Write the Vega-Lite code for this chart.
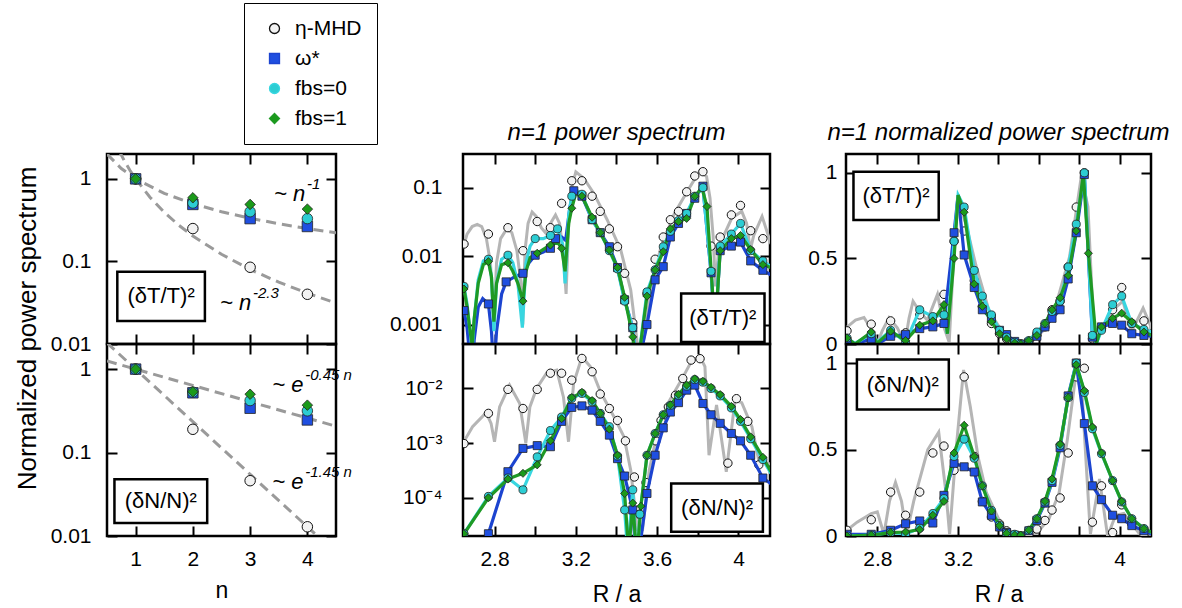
{
"$schema":"https://vega.github.io/schema/vega-lite/v6.json",
"padding":{"left":12,"top":2,"right":5,"bottom":5},
"config":{
 "font":"Liberation Sans",
 "view":{"stroke":"black","strokeWidth":2.5},
 "axis":{"grid":false,"domain":false,"tickColor":"black","tickWidth":2,"labelFontSize":21,"labelColor":"black","titleFontSize":23,"titleFontWeight":"normal","titleColor":"black","labelOverlap":false,"labelFlush":false,"labelBound":false},
 "legend":{"labelFontSize":21,"labelColor":"black","symbolSize":100,"rowPadding":8,"padding":15,"strokeColor":"black","fillColor":"white","symbolStrokeWidth":1.3,"labelOffset":10,"symbolOffset":5},
 "title":{"fontSize":24,"fontWeight":"normal","fontStyle":"italic","color":"black","offset":8,"anchor":"middle"}
},
"datasets":{
"ns":[
{"p":"T","s":"e","n":1,"y":1},{"p":"T","s":"e","n":2,"y":0.25},{"p":"T","s":"e","n":3,"y":0.085},{"p":"T","s":"e","n":4,"y":0.04},
{"p":"T","s":"w","n":1,"y":1},{"p":"T","s":"w","n":2,"y":0.49},{"p":"T","s":"w","n":3,"y":0.33},{"p":"T","s":"w","n":4,"y":0.265},
{"p":"T","s":"c","n":1,"y":1},{"p":"T","s":"c","n":2,"y":0.51},{"p":"T","s":"c","n":3,"y":0.4},{"p":"T","s":"c","n":4,"y":0.33},
{"p":"T","s":"g","n":1,"y":1},{"p":"T","s":"g","n":2,"y":0.59},{"p":"T","s":"g","n":3,"y":0.49},{"p":"T","s":"g","n":4,"y":0.43},
{"p":"N","s":"e","n":1,"y":1},{"p":"N","s":"e","n":2,"y":0.19},{"p":"N","s":"e","n":3,"y":0.046},{"p":"N","s":"e","n":4,"y":0.0129},
{"p":"N","s":"w","n":1,"y":1},{"p":"N","s":"w","n":2,"y":0.52},{"p":"N","s":"w","n":3,"y":0.34},{"p":"N","s":"w","n":4,"y":0.246},
{"p":"N","s":"c","n":1,"y":1},{"p":"N","s":"c","n":2,"y":0.53},{"p":"N","s":"c","n":3,"y":0.42},{"p":"N","s":"c","n":4,"y":0.316},
{"p":"N","s":"g","n":1,"y":1},{"p":"N","s":"g","n":2,"y":0.535},{"p":"N","s":"g","n":3,"y":0.5},{"p":"N","s":"g","n":4,"y":0.37}
],
"fits":[
{"p":"T","f":"a","n":0.5,"y":2},{"p":"T","f":"a","n":0.75,"y":1.333},{"p":"T","f":"a","n":1,"y":1},{"p":"T","f":"a","n":1.5,"y":0.667},{"p":"T","f":"a","n":2,"y":0.5},{"p":"T","f":"a","n":2.5,"y":0.4},{"p":"T","f":"a","n":3,"y":0.333},{"p":"T","f":"a","n":3.5,"y":0.286},{"p":"T","f":"a","n":4,"y":0.25},{"p":"T","f":"a","n":4.5,"y":0.222},
{"p":"T","f":"b","n":0.6,"y":3.24},{"p":"T","f":"b","n":0.7,"y":2.27},{"p":"T","f":"b","n":0.8,"y":1.67},{"p":"T","f":"b","n":0.9,"y":1.27},{"p":"T","f":"b","n":1,"y":1},{"p":"T","f":"b","n":1.25,"y":0.599},{"p":"T","f":"b","n":1.5,"y":0.394},{"p":"T","f":"b","n":1.75,"y":0.276},{"p":"T","f":"b","n":2,"y":0.203},{"p":"T","f":"b","n":2.5,"y":0.122},{"p":"T","f":"b","n":3,"y":0.0799},{"p":"T","f":"b","n":3.5,"y":0.0561},{"p":"T","f":"b","n":4,"y":0.0412},{"p":"T","f":"b","n":4.5,"y":0.0314},
{"p":"N","f":"a","n":0.5,"y":1.25},{"p":"N","f":"a","n":4.5,"y":0.207},
{"p":"N","f":"b","n":0.5,"y":2.06},{"p":"N","f":"b","n":4.5,"y":0.00625}
],
"ann":[
{"p":"T","n":3.416,"y":0.538,"base":"~ n","sup":"-1"},
{"p":"T","n":2.474,"y":0.0258,"base":"~ n","sup":"-2.3"},
{"p":"N","n":3.386,"y":0.538,"base":"~ e","sup":"-0.45 n"},
{"p":"N","n":3.386,"y":0.0362,"base":"~ e","sup":"-1.45 n"}
],
"box":[
{"p":"LT","x1":0.68,"x2":2.21,"y1":0.019,"y2":0.075,"tx":1.445,"ty":0.0377,"lab":"(δT/T)²"},
{"p":"LB","x1":0.63,"x2":2.25,"y1":0.0143,"y2":0.048,"tx":1.44,"ty":0.0262,"lab":"(δN/N)²"},
{"p":"TL","x1":3.718,"x2":4.128,"y1":0.000556,"y2":0.00284,"tx":3.923,"ty":0.00126,"lab":"(δT/T)²"},
{"p":"NL","x1":3.669,"x2":4.12,"y1":0.0000239,"y2":0.000183,"tx":3.895,"ty":0.0000661,"lab":"(δN/N)²"},
{"p":"TN","x1":2.682,"x2":3.104,"y1":0.725,"y2":1.006,"tx":2.893,"ty":0.866,"lab":"(δT/T)²"},
{"p":"NN","x1":2.699,"x2":3.154,"y1":0.731,"y2":1.02,"tx":2.926,"ty":0.875,"lab":"(δN/N)²"}
],
"TL":[
{"s":"e","x":2.645,"y":0.013},{"s":"e","x":2.665,"y":0.021},{"s":"e","x":2.69,"y":0.027},{"s":"e","x":2.715,"y":0.029},{"s":"e","x":2.737,"y":0.027},{"s":"e","x":2.76,"y":0.018},{"s":"e","x":2.78,"y":0.008},{"s":"e","x":2.797,"y":0.001},{"s":"e","x":2.81,"y":0.008},{"s":"e","x":2.83,"y":0.018},{"s":"e","x":2.86,"y":0.025},{"s":"e","x":2.885,"y":0.022},{"s":"e","x":2.91,"y":0.012},{"s":"e","x":2.93,"y":0.004},{"s":"e","x":2.939,"y":0.001},{"s":"e","x":2.95,"y":0.012},{"s":"e","x":2.965,"y":0.03},{"s":"e","x":2.985,"y":0.044},{"s":"e","x":3.005,"y":0.038},{"s":"e","x":3.03,"y":0.026},{"s":"e","x":3.05,"y":0.022},{"s":"e","x":3.075,"y":0.03},{"s":"e","x":3.1,"y":0.04},{"s":"e","x":3.12,"y":0.03},{"s":"e","x":3.14,"y":0.01},{"s":"e","x":3.152,"y":0.0028},{"s":"e","x":3.165,"y":0.03},{"s":"e","x":3.18,"y":0.1},{"s":"e","x":3.2,"y":0.17},{"s":"e","x":3.239,"y":0.137},{"s":"e","x":3.288,"y":0.083},{"s":"e","x":3.354,"y":0.034},{"s":"e","x":3.421,"y":0.0123},{"s":"e","x":3.47,"y":0.0032},{"s":"e","x":3.495,"y":0.0008},{"s":"e","x":3.512,"y":0.0003},{"s":"e","x":3.545,"y":0.0009},{"s":"e","x":3.57,"y":0.0036},{"s":"e","x":3.619,"y":0.0137},{"s":"e","x":3.685,"y":0.042},{"s":"e","x":3.752,"y":0.092},{"s":"e","x":3.81,"y":0.177},{"s":"e","x":3.843,"y":0.145},{"s":"e","x":3.86,"y":0.07},{"s":"e","x":3.875,"y":0.02},{"s":"e","x":3.887,"y":0.0036},{"s":"e","x":3.9,"y":0.01},{"s":"e","x":3.917,"y":0.017},{"s":"e","x":3.967,"y":0.036},{"s":"e","x":4.016,"y":0.045},{"s":"e","x":4.04,"y":0.03},{"s":"e","x":4.058,"y":0.0123},{"s":"e","x":4.075,"y":0.02},{"s":"e","x":4.116,"y":0.038},{"s":"e","x":4.16,"y":0.015},
{"s":"e","x":2.65,"y":0.015,"m":1},{"s":"e","x":2.77,"y":0.021,"m":1},{"s":"e","x":2.866,"y":0.026,"m":1},{"s":"e","x":2.94,"y":0.012,"m":1},{"s":"e","x":3.01,"y":0.032,"m":1},{"s":"e","x":3.075,"y":0.026,"m":1},{"s":"e","x":3.13,"y":0.059,"m":1},{"s":"e","x":3.18,"y":0.126,"m":1},{"s":"e","x":3.23,"y":0.126,"m":1},{"s":"e","x":3.28,"y":0.075,"m":1},{"s":"e","x":3.32,"y":0.045,"m":1},{"s":"e","x":3.365,"y":0.025,"m":1},{"s":"e","x":3.405,"y":0.0137,"m":1},{"s":"e","x":3.44,"y":0.0056,"m":1},{"s":"e","x":3.48,"y":0.00106,"m":1},{"s":"e","x":3.55,"y":0.0028,"m":1},{"s":"e","x":3.59,"y":0.009,"m":1},{"s":"e","x":3.63,"y":0.019,"m":1},{"s":"e","x":3.665,"y":0.034,"m":1},{"s":"e","x":3.705,"y":0.045,"m":1},{"s":"e","x":3.745,"y":0.087,"m":1},{"s":"e","x":3.785,"y":0.148,"m":1},{"s":"e","x":3.825,"y":0.171,"m":1},{"s":"e","x":3.865,"y":0.014,"m":1},{"s":"e","x":3.91,"y":0.019,"m":1},{"s":"e","x":3.965,"y":0.04,"m":1},{"s":"e","x":4.01,"y":0.055,"m":1},{"s":"e","x":4.06,"y":0.0235,"m":1},{"s":"e","x":4.12,"y":0.018,"m":1},
{"s":"w","x":2.65,"y":0.0016,"m":1},{"s":"w","x":2.665,"y":0.0009},{"s":"w","x":2.68,"y":0.0003},{"s":"w","x":2.69,"y":0.0002},{"s":"w","x":2.7,"y":0.0006},{"s":"w","x":2.72,"y":0.0018},{"s":"w","x":2.742,"y":0.0024},{"s":"w","x":2.77,"y":0.002,"m":1},{"s":"w","x":2.785,"y":0.0008},{"s":"w","x":2.797,"y":0.0002},{"s":"w","x":2.81,"y":0.0008},{"s":"w","x":2.835,"y":0.0028},{"s":"w","x":2.857,"y":0.0042,"m":1},{"s":"w","x":2.9,"y":0.005},{"s":"w","x":2.94,"y":0.0056,"m":1},{"s":"w","x":2.97,"y":0.008},{"s":"w","x":3.0,"y":0.0103,"m":1},{"s":"w","x":3.04,"y":0.0115},{"s":"w","x":3.075,"y":0.013,"m":1},{"s":"w","x":3.1,"y":0.018,"m":1},{"s":"w","x":3.13,"y":0.019},{"s":"w","x":3.15,"y":0.017},{"s":"w","x":3.17,"y":0.05},{"s":"w","x":3.19,"y":0.09,"m":1},{"s":"w","x":3.23,"y":0.075,"m":1},{"s":"w","x":3.28,"y":0.034,"m":1},{"s":"w","x":3.32,"y":0.022,"m":1},{"s":"w","x":3.365,"y":0.0137,"m":1},{"s":"w","x":3.405,"y":0.0068,"m":1},{"s":"w","x":3.44,"y":0.0023,"m":1},{"s":"w","x":3.48,"y":0.0009,"m":1},{"s":"w","x":3.5,"y":0.0002},{"s":"w","x":3.55,"y":0.001,"m":1},{"s":"w","x":3.59,"y":0.0045,"m":1},{"s":"w","x":3.63,"y":0.007,"m":1},{"s":"w","x":3.665,"y":0.019,"m":1},{"s":"w","x":3.705,"y":0.03,"m":1},{"s":"w","x":3.745,"y":0.042,"m":1},{"s":"w","x":3.785,"y":0.07,"m":1},{"s":"w","x":3.825,"y":0.105,"m":1},{"s":"w","x":3.865,"y":0.0057,"m":1},{"s":"w","x":3.885,"y":0.0008},{"s":"w","x":3.91,"y":0.012,"m":1},{"s":"w","x":3.965,"y":0.014,"m":1},{"s":"w","x":4.01,"y":0.016,"m":1},{"s":"w","x":4.06,"y":0.0085,"m":1},{"s":"w","x":4.12,"y":0.0062,"m":1},{"s":"w","x":4.16,"y":0.0053},
{"s":"c","x":2.65,"y":0.0036,"m":1},{"s":"c","x":2.665,"y":0.002},{"s":"c","x":2.68,"y":0.0008},{"s":"c","x":2.69,"y":0.0004},{"s":"c","x":2.7,"y":0.0012},{"s":"c","x":2.72,"y":0.0045},{"s":"c","x":2.745,"y":0.0085},{"s":"c","x":2.77,"y":0.009,"m":1},{"s":"c","x":2.785,"y":0.005},{"s":"c","x":2.797,"y":0.0008},{"s":"c","x":2.81,"y":0.004},{"s":"c","x":2.835,"y":0.009},{"s":"c","x":2.866,"y":0.0103,"m":1},{"s":"c","x":2.89,"y":0.008},{"s":"c","x":2.915,"y":0.004},{"s":"c","x":2.937,"y":0.0009},{"s":"c","x":2.955,"y":0.008},{"s":"c","x":2.975,"y":0.014},{"s":"c","x":3.0,"y":0.018,"m":1},{"s":"c","x":3.04,"y":0.018},{"s":"c","x":3.075,"y":0.02,"m":1},{"s":"c","x":3.11,"y":0.025,"m":1},{"s":"c","x":3.135,"y":0.015},{"s":"c","x":3.147,"y":0.004},{"s":"c","x":3.165,"y":0.04},{"s":"c","x":3.18,"y":0.075,"m":1},{"s":"c","x":3.2,"y":0.093},{"s":"c","x":3.23,"y":0.08,"m":1},{"s":"c","x":3.28,"y":0.034,"m":1},{"s":"c","x":3.32,"y":0.022,"m":1},{"s":"c","x":3.365,"y":0.012,"m":1},{"s":"c","x":3.405,"y":0.0065,"m":1},{"s":"c","x":3.44,"y":0.0022,"m":1},{"s":"c","x":3.48,"y":0.0009,"m":1},{"s":"c","x":3.5,"y":0.0002},{"s":"c","x":3.55,"y":0.003,"m":1},{"s":"c","x":3.59,"y":0.0063,"m":1},{"s":"c","x":3.63,"y":0.0137,"m":1},{"s":"c","x":3.665,"y":0.023,"m":1},{"s":"c","x":3.705,"y":0.033,"m":1},{"s":"c","x":3.745,"y":0.042,"m":1},{"s":"c","x":3.785,"y":0.075,"m":1},{"s":"c","x":3.825,"y":0.1,"m":1},{"s":"c","x":3.865,"y":0.006,"m":1},{"s":"c","x":3.885,"y":0.0008},{"s":"c","x":3.91,"y":0.014,"m":1},{"s":"c","x":3.965,"y":0.021,"m":1},{"s":"c","x":4.01,"y":0.03,"m":1},{"s":"c","x":4.06,"y":0.012,"m":1},{"s":"c","x":4.12,"y":0.0085,"m":1},{"s":"c","x":4.16,"y":0.007},
{"s":"g","x":2.65,"y":0.0033,"m":1},{"s":"g","x":2.665,"y":0.0018},{"s":"g","x":2.68,"y":0.0008},{"s":"g","x":2.69,"y":0.0005},{"s":"g","x":2.7,"y":0.0012},{"s":"g","x":2.72,"y":0.004},{"s":"g","x":2.745,"y":0.0075},{"s":"g","x":2.77,"y":0.0083,"m":1},{"s":"g","x":2.785,"y":0.005},{"s":"g","x":2.797,"y":0.0011},{"s":"g","x":2.81,"y":0.004},{"s":"g","x":2.835,"y":0.0075},{"s":"g","x":2.866,"y":0.008,"m":1},{"s":"g","x":2.89,"y":0.006},{"s":"g","x":2.915,"y":0.004},{"s":"g","x":2.94,"y":0.0022,"m":1},{"s":"g","x":2.955,"y":0.006},{"s":"g","x":2.975,"y":0.0095},{"s":"g","x":3.01,"y":0.011,"m":1},{"s":"g","x":3.04,"y":0.0125},{"s":"g","x":3.075,"y":0.0145,"m":1},{"s":"g","x":3.11,"y":0.016},{"s":"g","x":3.13,"y":0.013,"m":1},{"s":"g","x":3.147,"y":0.006},{"s":"g","x":3.165,"y":0.03},{"s":"g","x":3.18,"y":0.05,"m":1},{"s":"g","x":3.2,"y":0.083},{"s":"g","x":3.23,"y":0.075,"m":1},{"s":"g","x":3.28,"y":0.037,"m":1},{"s":"g","x":3.32,"y":0.022,"m":1},{"s":"g","x":3.365,"y":0.0122,"m":1},{"s":"g","x":3.405,"y":0.0068,"m":1},{"s":"g","x":3.44,"y":0.0025,"m":1},{"s":"g","x":3.48,"y":0.00066,"m":1},{"s":"g","x":3.5,"y":0.0002},{"s":"g","x":3.55,"y":0.0026,"m":1},{"s":"g","x":3.59,"y":0.0063,"m":1},{"s":"g","x":3.63,"y":0.0116,"m":1},{"s":"g","x":3.665,"y":0.025,"m":1},{"s":"g","x":3.705,"y":0.032,"m":1},{"s":"g","x":3.745,"y":0.0355,"m":1},{"s":"g","x":3.785,"y":0.075,"m":1},{"s":"g","x":3.82,"y":0.1},{"s":"g","x":3.845,"y":0.053,"m":1},{"s":"g","x":3.885,"y":0.0008},{"s":"g","x":3.91,"y":0.012,"m":1},{"s":"g","x":3.965,"y":0.018,"m":1},{"s":"g","x":4.01,"y":0.02,"m":1},{"s":"g","x":4.06,"y":0.0125,"m":1},{"s":"g","x":4.12,"y":0.0075,"m":1},{"s":"g","x":4.16,"y":0.0068}
],
"NL":[
{"s":"e","x":2.645,"y":0.001},{"s":"e","x":2.692,"y":0.002},{"s":"e","x":2.759,"y":0.0036},{"s":"e","x":2.783,"y":0.0023},{"s":"e","x":2.8,"y":0.00106},{"s":"e","x":2.825,"y":0.0046},{"s":"e","x":2.874,"y":0.0115},{"s":"e","x":2.924,"y":0.0053},{"s":"e","x":2.954,"y":0.001},{"s":"e","x":2.974,"y":0.0046},{"s":"e","x":3.007,"y":0.01},{"s":"e","x":3.057,"y":0.0193},{"s":"e","x":3.106,"y":0.0216},{"s":"e","x":3.139,"y":0.007},{"s":"e","x":3.164,"y":0.00106},{"s":"e","x":3.189,"y":0.0123},{"s":"e","x":3.23,"y":0.038},{"s":"e","x":3.272,"y":0.025},{"s":"e","x":3.321,"y":0.0087},{"s":"e","x":3.388,"y":0.003},{"s":"e","x":3.437,"y":0.0013},{"s":"e","x":3.47,"y":0.00032},{"s":"e","x":3.503,"y":0.000026},{"s":"e","x":3.528,"y":0.000026},{"s":"e","x":3.561,"y":0.00032},{"s":"e","x":3.603,"y":0.0017},{"s":"e","x":3.652,"y":0.0053},{"s":"e","x":3.719,"y":0.0142},{"s":"e","x":3.768,"y":0.031},{"s":"e","x":3.81,"y":0.039},{"s":"e","x":3.835,"y":0.025},{"s":"e","x":3.855,"y":0.0006},{"s":"e","x":3.892,"y":0.005},{"s":"e","x":3.94,"y":0.0003},{"s":"e","x":3.983,"y":0.006},{"s":"e","x":4.016,"y":0.0055},{"s":"e","x":4.066,"y":0.002},{"s":"e","x":4.099,"y":0.0005},{"s":"e","x":4.165,"y":0.0004},
{"s":"e","x":2.65,"y":0.00098,"m":1},{"s":"e","x":2.77,"y":0.0035,"m":1},{"s":"e","x":2.866,"y":0.0096,"m":1},{"s":"e","x":2.94,"y":0.0043,"m":1},{"s":"e","x":3.01,"y":0.0096,"m":1},{"s":"e","x":3.075,"y":0.019,"m":1},{"s":"e","x":3.13,"y":0.019,"m":1},{"s":"e","x":3.18,"y":0.0142,"m":1},{"s":"e","x":3.23,"y":0.0354,"m":1},{"s":"e","x":3.28,"y":0.0202,"m":1},{"s":"e","x":3.32,"y":0.0079,"m":1},{"s":"e","x":3.365,"y":0.0043,"m":1},{"s":"e","x":3.405,"y":0.0026,"m":1},{"s":"e","x":3.444,"y":0.0011,"m":1},{"s":"e","x":3.488,"y":0.00024,"m":1},{"s":"e","x":3.513,"y":0.00005,"m":1},{"s":"e","x":3.545,"y":0.00019,"m":1},{"s":"e","x":3.594,"y":0.0011,"m":1},{"s":"e","x":3.619,"y":0.0026,"m":1},{"s":"e","x":3.655,"y":0.0046,"m":1},{"s":"e","x":3.69,"y":0.0075,"m":1},{"s":"e","x":3.726,"y":0.0152,"m":1},{"s":"e","x":3.767,"y":0.033,"m":1},{"s":"e","x":3.811,"y":0.035,"m":1},{"s":"e","x":3.948,"y":0.00043,"m":1},{"s":"e","x":3.99,"y":0.0065,"m":1},{"s":"e","x":4.046,"y":0.0025,"m":1},{"s":"e","x":4.1,"y":0.0004,"m":1},
{"s":"w","x":2.74,"y":0.000005},{"s":"w","x":2.77,"y":0.000022,"m":1},{"s":"w","x":2.866,"y":0.0003,"m":1},{"s":"w","x":2.94,"y":0.0008,"m":1},{"s":"w","x":3.01,"y":0.0009,"m":1},{"s":"w","x":3.075,"y":0.00086,"m":1},{"s":"w","x":3.13,"y":0.0025,"m":1},{"s":"w","x":3.18,"y":0.0045,"m":1},{"s":"w","x":3.23,"y":0.0048,"m":1},{"s":"w","x":3.28,"y":0.004,"m":1},{"s":"w","x":3.32,"y":0.0025,"m":1},{"s":"w","x":3.365,"y":0.0014,"m":1},{"s":"w","x":3.405,"y":0.00052,"m":1},{"s":"w","x":3.44,"y":0.00025,"m":1},{"s":"w","x":3.48,"y":0.00006,"m":1},{"s":"w","x":3.5,"y":0.000005},{"s":"w","x":3.55,"y":0.00012,"m":1},{"s":"w","x":3.59,"y":0.0006,"m":1},{"s":"w","x":3.63,"y":0.0019,"m":1},{"s":"w","x":3.665,"y":0.0037,"m":1},{"s":"w","x":3.705,"y":0.0055,"m":1},{"s":"w","x":3.745,"y":0.0093,"m":1},{"s":"w","x":3.785,"y":0.0115,"m":1},{"s":"w","x":3.825,"y":0.0053,"m":1},{"s":"w","x":3.865,"y":0.0033,"m":1},{"s":"w","x":3.91,"y":0.0023,"m":1},{"s":"w","x":3.965,"y":0.0015,"m":1},{"s":"w","x":4.01,"y":0.0011,"m":1},{"s":"w","x":4.06,"y":0.0006,"m":1},{"s":"w","x":4.12,"y":0.00023,"m":1},{"s":"w","x":4.16,"y":0.00018},
{"s":"c","x":2.65,"y":0.000022,"m":1},{"s":"c","x":2.77,"y":0.000106,"m":1},{"s":"c","x":2.866,"y":0.00023,"m":1},{"s":"c","x":2.94,"y":0.00014,"m":1},{"s":"c","x":3.01,"y":0.00056,"m":1},{"s":"c","x":3.075,"y":0.0017,"m":1},{"s":"c","x":3.13,"y":0.003,"m":1},{"s":"c","x":3.18,"y":0.0066,"m":1},{"s":"c","x":3.23,"y":0.0081,"m":1},{"s":"c","x":3.28,"y":0.0057,"m":1},{"s":"c","x":3.32,"y":0.0035,"m":1},{"s":"c","x":3.365,"y":0.002,"m":1},{"s":"c","x":3.405,"y":0.00058,"m":1},{"s":"c","x":3.44,"y":0.00006,"m":1},{"s":"c","x":3.455,"y":0.00001},{"s":"c","x":3.48,"y":0.00014,"m":1},{"s":"c","x":3.5,"y":0.000005},{"s":"c","x":3.515,"y":0.00005,"m":1},{"s":"c","x":3.55,"y":0.0006,"m":1},{"s":"c","x":3.59,"y":0.0015,"m":1},{"s":"c","x":3.63,"y":0.0033,"m":1},{"s":"c","x":3.665,"y":0.0049,"m":1},{"s":"c","x":3.705,"y":0.0075,"m":1},{"s":"c","x":3.745,"y":0.011,"m":1},{"s":"c","x":3.785,"y":0.0145,"m":1},{"s":"c","x":3.825,"y":0.013,"m":1},{"s":"c","x":3.865,"y":0.01,"m":1},{"s":"c","x":3.91,"y":0.0073,"m":1},{"s":"c","x":3.965,"y":0.0044,"m":1},{"s":"c","x":4.01,"y":0.0025,"m":1},{"s":"c","x":4.06,"y":0.0012,"m":1},{"s":"c","x":4.12,"y":0.0005,"m":1},{"s":"c","x":4.16,"y":0.00028},
{"s":"g","x":2.65,"y":0.000022,"m":1},{"s":"g","x":2.77,"y":0.0001,"m":1},{"s":"g","x":2.866,"y":0.00022,"m":1},{"s":"g","x":2.94,"y":0.00028,"m":1},{"s":"g","x":3.01,"y":0.0004,"m":1},{"s":"g","x":3.075,"y":0.0011,"m":1},{"s":"g","x":3.13,"y":0.0028,"m":1},{"s":"g","x":3.18,"y":0.0068,"m":1},{"s":"g","x":3.23,"y":0.0085,"m":1},{"s":"g","x":3.28,"y":0.006,"m":1},{"s":"g","x":3.32,"y":0.0035,"m":1},{"s":"g","x":3.365,"y":0.0018,"m":1},{"s":"g","x":3.405,"y":0.0006,"m":1},{"s":"g","x":3.44,"y":0.00012,"m":1},{"s":"g","x":3.46,"y":0.00001},{"s":"g","x":3.48,"y":0.00008,"m":1},{"s":"g","x":3.5,"y":0.000008},{"s":"g","x":3.52,"y":0.00007,"m":1},{"s":"g","x":3.55,"y":0.0006,"m":1},{"s":"g","x":3.59,"y":0.0015,"m":1},{"s":"g","x":3.63,"y":0.0033,"m":1},{"s":"g","x":3.665,"y":0.005,"m":1},{"s":"g","x":3.705,"y":0.0078,"m":1},{"s":"g","x":3.745,"y":0.0115,"m":1},{"s":"g","x":3.785,"y":0.015,"m":1},{"s":"g","x":3.825,"y":0.0135,"m":1},{"s":"g","x":3.865,"y":0.0105,"m":1},{"s":"g","x":3.91,"y":0.0077,"m":1},{"s":"g","x":3.965,"y":0.0047,"m":1},{"s":"g","x":4.01,"y":0.0027,"m":1},{"s":"g","x":4.06,"y":0.0013,"m":1},{"s":"g","x":4.12,"y":0.00055,"m":1},{"s":"g","x":4.16,"y":0.0003}
],
"TN":[
{"s":"e","x":2.645,"y":0.094},{"s":"e","x":2.692,"y":0.14},{"s":"e","x":2.734,"y":0.155},{"s":"e","x":2.775,"y":0.078},{"s":"e","x":2.8,"y":0.005},{"s":"e","x":2.825,"y":0.078},{"s":"e","x":2.858,"y":0.153},{"s":"e","x":2.899,"y":0.095},{"s":"e","x":2.937,"y":0.005},{"s":"e","x":2.957,"y":0.15},{"s":"e","x":2.977,"y":0.25},{"s":"e","x":3.015,"y":0.18},{"s":"e","x":3.048,"y":0.14},{"s":"e","x":3.098,"y":0.29},{"s":"e","x":3.131,"y":0.095},{"s":"e","x":3.156,"y":0.01},{"s":"e","x":3.172,"y":0.37},{"s":"e","x":3.197,"y":0.85},{"s":"e","x":3.239,"y":0.7},{"s":"e","x":3.288,"y":0.46},{"s":"e","x":3.354,"y":0.19},{"s":"e","x":3.421,"y":0.068},{"s":"e","x":3.47,"y":0.018},{"s":"e","x":3.495,"y":0.004},{"s":"e","x":3.512,"y":0},{"s":"e","x":3.545,"y":0.005},{"s":"e","x":3.57,"y":0.02},{"s":"e","x":3.619,"y":0.076},{"s":"e","x":3.685,"y":0.23},{"s":"e","x":3.752,"y":0.51},{"s":"e","x":3.81,"y":0.98},{"s":"e","x":3.843,"y":0.8},{"s":"e","x":3.868,"y":0.17},{"s":"e","x":3.887,"y":0.02},{"s":"e","x":3.917,"y":0.095},{"s":"e","x":3.967,"y":0.2},{"s":"e","x":4.016,"y":0.25},{"s":"e","x":4.058,"y":0.07},{"s":"e","x":4.116,"y":0.21},{"s":"e","x":4.16,"y":0.085},
{"s":"e","x":2.65,"y":0.077,"m":1},{"s":"e","x":2.77,"y":0.116,"m":1},{"s":"e","x":2.866,"y":0.135,"m":1},{"s":"e","x":2.94,"y":0.065,"m":1},{"s":"e","x":3.01,"y":0.17,"m":1},{"s":"e","x":3.075,"y":0.13,"m":1},{"s":"e","x":3.13,"y":0.29,"m":1},{"s":"e","x":3.18,"y":0.6,"m":1},{"s":"e","x":3.23,"y":0.66,"m":1},{"s":"e","x":3.28,"y":0.37,"m":1},{"s":"e","x":3.32,"y":0.22,"m":1},{"s":"e","x":3.365,"y":0.12,"m":1},{"s":"e","x":3.405,"y":0.06,"m":1},{"s":"e","x":3.44,"y":0.03,"m":1},{"s":"e","x":3.48,"y":0.005,"m":1},{"s":"e","x":3.51,"y":0,"m":1},{"s":"e","x":3.55,"y":0.015,"m":1},{"s":"e","x":3.59,"y":0.05,"m":1},{"s":"e","x":3.63,"y":0.1,"m":1},{"s":"e","x":3.665,"y":0.2,"m":1},{"s":"e","x":3.705,"y":0.25,"m":1},{"s":"e","x":3.745,"y":0.45,"m":1},{"s":"e","x":3.785,"y":0.8,"m":1},{"s":"e","x":3.825,"y":1,"m":1},{"s":"e","x":3.865,"y":0.03,"m":1},{"s":"e","x":3.91,"y":0.09,"m":1},{"s":"e","x":3.965,"y":0.2,"m":1},{"s":"e","x":4.01,"y":0.33,"m":1},{"s":"e","x":4.06,"y":0.12,"m":1},{"s":"e","x":4.12,"y":0.135,"m":1},
{"s":"w","x":2.65,"y":0.015,"m":1},{"s":"w","x":2.69,"y":0},{"s":"w","x":2.77,"y":0.03,"m":1},{"s":"w","x":2.8,"y":0},{"s":"w","x":2.866,"y":0.045,"m":1},{"s":"w","x":2.94,"y":0.055,"m":1},{"s":"w","x":3.01,"y":0.09,"m":1},{"s":"w","x":3.075,"y":0.1,"m":1},{"s":"w","x":3.13,"y":0.12,"m":1},{"s":"w","x":3.18,"y":0.65,"m":1},{"s":"w","x":3.2,"y":0.87},{"s":"w","x":3.23,"y":0.52,"m":1},{"s":"w","x":3.28,"y":0.33,"m":1},{"s":"w","x":3.32,"y":0.2,"m":1},{"s":"w","x":3.365,"y":0.15,"m":1},{"s":"w","x":3.405,"y":0.08,"m":1},{"s":"w","x":3.44,"y":0.055,"m":1},{"s":"w","x":3.48,"y":0.015,"m":1},{"s":"w","x":3.51,"y":0,"m":1},{"s":"w","x":3.55,"y":0.01,"m":1},{"s":"w","x":3.59,"y":0.045,"m":1},{"s":"w","x":3.63,"y":0.1,"m":1},{"s":"w","x":3.665,"y":0.15,"m":1},{"s":"w","x":3.705,"y":0.2,"m":1},{"s":"w","x":3.745,"y":0.38,"m":1},{"s":"w","x":3.785,"y":0.65,"m":1},{"s":"w","x":3.825,"y":0.99,"m":1},{"s":"w","x":3.865,"y":0.04,"m":1},{"s":"w","x":3.885,"y":0.005},{"s":"w","x":3.91,"y":0.1,"m":1},{"s":"w","x":3.965,"y":0.12,"m":1},{"s":"w","x":4.01,"y":0.11,"m":1},{"s":"w","x":4.06,"y":0.06,"m":1},{"s":"w","x":4.12,"y":0.05,"m":1},{"s":"w","x":4.16,"y":0.045},
{"s":"c","x":2.65,"y":0.035,"m":1},{"s":"c","x":2.69,"y":0.003},{"s":"c","x":2.77,"y":0.06,"m":1},{"s":"c","x":2.8,"y":0.01},{"s":"c","x":2.866,"y":0.08,"m":1},{"s":"c","x":2.94,"y":0.01,"m":1},{"s":"c","x":3.01,"y":0.2,"m":1},{"s":"c","x":3.075,"y":0.16,"m":1},{"s":"c","x":3.13,"y":0.17,"m":1},{"s":"c","x":3.147,"y":0.06},{"s":"c","x":3.18,"y":0.6,"m":1},{"s":"c","x":3.2,"y":0.87},{"s":"c","x":3.23,"y":0.8,"m":1},{"s":"c","x":3.28,"y":0.43,"m":1},{"s":"c","x":3.32,"y":0.28,"m":1},{"s":"c","x":3.365,"y":0.17,"m":1},{"s":"c","x":3.405,"y":0.08,"m":1},{"s":"c","x":3.44,"y":0.04,"m":1},{"s":"c","x":3.48,"y":0.01,"m":1},{"s":"c","x":3.51,"y":0,"m":1},{"s":"c","x":3.55,"y":0.02,"m":1},{"s":"c","x":3.59,"y":0.07,"m":1},{"s":"c","x":3.63,"y":0.12,"m":1},{"s":"c","x":3.665,"y":0.19,"m":1},{"s":"c","x":3.705,"y":0.25,"m":1},{"s":"c","x":3.745,"y":0.45,"m":1},{"s":"c","x":3.785,"y":0.7,"m":1},{"s":"c","x":3.825,"y":1,"m":1},{"s":"c","x":3.865,"y":0.05,"m":1},{"s":"c","x":3.885,"y":0.005},{"s":"c","x":3.91,"y":0.08,"m":1},{"s":"c","x":3.965,"y":0.23,"m":1},{"s":"c","x":4.01,"y":0.28,"m":1},{"s":"c","x":4.06,"y":0.12,"m":1},{"s":"c","x":4.12,"y":0.085,"m":1},{"s":"c","x":4.16,"y":0.07},
{"s":"g","x":2.65,"y":0.035,"m":1},{"s":"g","x":2.69,"y":0},{"s":"g","x":2.77,"y":0.07,"m":1},{"s":"g","x":2.8,"y":0.005},{"s":"g","x":2.866,"y":0.075,"m":1},{"s":"g","x":2.94,"y":0.02,"m":1},{"s":"g","x":3.01,"y":0.11,"m":1},{"s":"g","x":3.075,"y":0.135,"m":1},{"s":"g","x":3.13,"y":0.23,"m":1},{"s":"g","x":3.147,"y":0.06},{"s":"g","x":3.18,"y":0.5,"m":1},{"s":"g","x":3.2,"y":0.87},{"s":"g","x":3.23,"y":0.77,"m":1},{"s":"g","x":3.28,"y":0.35,"m":1},{"s":"g","x":3.32,"y":0.22,"m":1},{"s":"g","x":3.365,"y":0.13,"m":1},{"s":"g","x":3.405,"y":0.06,"m":1},{"s":"g","x":3.44,"y":0.03,"m":1},{"s":"g","x":3.48,"y":0.006,"m":1},{"s":"g","x":3.51,"y":0,"m":1},{"s":"g","x":3.55,"y":0.02,"m":1},{"s":"g","x":3.59,"y":0.05,"m":1},{"s":"g","x":3.63,"y":0.12,"m":1},{"s":"g","x":3.665,"y":0.2,"m":1},{"s":"g","x":3.705,"y":0.27,"m":1},{"s":"g","x":3.745,"y":0.4,"m":1},{"s":"g","x":3.785,"y":0.66,"m":1},{"s":"g","x":3.82,"y":1},{"s":"g","x":3.845,"y":0.53,"m":1},{"s":"g","x":3.885,"y":0.005},{"s":"g","x":3.91,"y":0.1,"m":1},{"s":"g","x":3.965,"y":0.15,"m":1},{"s":"g","x":4.01,"y":0.18,"m":1},{"s":"g","x":4.06,"y":0.13,"m":1},{"s":"g","x":4.12,"y":0.07,"m":1},{"s":"g","x":4.16,"y":0.05}
],
"NN":[
{"s":"e","x":2.645,"y":0.03},{"s":"e","x":2.7,"y":0.08},{"s":"e","x":2.77,"y":0.13},{"s":"e","x":2.8,"y":0.14},{"s":"e","x":2.833,"y":0.01},{"s":"e","x":2.86,"y":0.2},{"s":"e","x":2.89,"y":0.31},{"s":"e","x":2.92,"y":0.2},{"s":"e","x":2.945,"y":0.01},{"s":"e","x":2.98,"y":0.2},{"s":"e","x":3.05,"y":0.5},{"s":"e","x":3.104,"y":0.6},{"s":"e","x":3.14,"y":0.25},{"s":"e","x":3.158,"y":0.01},{"s":"e","x":3.19,"y":0.5},{"s":"e","x":3.227,"y":0.96},{"s":"e","x":3.26,"y":0.75},{"s":"e","x":3.3,"y":0.45},{"s":"e","x":3.34,"y":0.25},{"s":"e","x":3.4,"y":0.1},{"s":"e","x":3.44,"y":0.03},{"s":"e","x":3.48,"y":0.008},{"s":"e","x":3.51,"y":0},{"s":"e","x":3.56,"y":0.01},{"s":"e","x":3.6,"y":0.03},{"s":"e","x":3.65,"y":0.1},{"s":"e","x":3.7,"y":0.25},{"s":"e","x":3.74,"y":0.55},{"s":"e","x":3.785,"y":0.95},{"s":"e","x":3.815,"y":0.8},{"s":"e","x":3.835,"y":0.4},{"s":"e","x":3.855,"y":0.01},{"s":"e","x":3.9,"y":0.33},{"s":"e","x":3.94,"y":0},{"s":"e","x":3.98,"y":0.12},{"s":"e","x":4.02,"y":0.13},{"s":"e","x":4.066,"y":0.06},{"s":"e","x":4.1,"y":0.01},{"s":"e","x":4.16,"y":0.01},
{"s":"e","x":2.65,"y":0.033,"m":1},{"s":"e","x":2.77,"y":0.094,"m":1},{"s":"e","x":2.866,"y":0.254,"m":1},{"s":"e","x":2.94,"y":0.12,"m":1},{"s":"e","x":3.01,"y":0.254,"m":1},{"s":"e","x":3.075,"y":0.48,"m":1},{"s":"e","x":3.13,"y":0.52,"m":1},{"s":"e","x":3.18,"y":0.38,"m":1},{"s":"e","x":3.23,"y":0.92,"m":1},{"s":"e","x":3.28,"y":0.46,"m":1},{"s":"e","x":3.32,"y":0.2,"m":1},{"s":"e","x":3.365,"y":0.11,"m":1},{"s":"e","x":3.405,"y":0.07,"m":1},{"s":"e","x":3.44,"y":0.03,"m":1},{"s":"e","x":3.48,"y":0.006,"m":1},{"s":"e","x":3.51,"y":0,"m":1},{"s":"e","x":3.55,"y":0.005,"m":1},{"s":"e","x":3.59,"y":0.04,"m":1},{"s":"e","x":3.63,"y":0.09,"m":1},{"s":"e","x":3.665,"y":0.15,"m":1},{"s":"e","x":3.705,"y":0.22,"m":1},{"s":"e","x":3.745,"y":0.48,"m":1},{"s":"e","x":3.785,"y":0.92,"m":1},{"s":"e","x":3.825,"y":0.97,"m":1},{"s":"e","x":3.865,"y":0.08,"m":1},{"s":"e","x":3.91,"y":0.29,"m":1},{"s":"e","x":3.965,"y":0.02,"m":1},{"s":"e","x":4.01,"y":0.18,"m":1},{"s":"e","x":4.06,"y":0.07,"m":1},{"s":"e","x":4.12,"y":0,"m":1},
{"s":"w","x":2.65,"y":0.01,"m":1},{"s":"w","x":2.77,"y":0.01,"m":1},{"s":"w","x":2.866,"y":0.033,"m":1},{"s":"w","x":2.94,"y":0.071,"m":1},{"s":"w","x":3.01,"y":0.087,"m":1},{"s":"w","x":3.075,"y":0.075,"m":1},{"s":"w","x":3.13,"y":0.235,"m":1},{"s":"w","x":3.18,"y":0.42,"m":1},{"s":"w","x":3.23,"y":0.4,"m":1},{"s":"w","x":3.28,"y":0.37,"m":1},{"s":"w","x":3.32,"y":0.197,"m":1},{"s":"w","x":3.365,"y":0.12,"m":1},{"s":"w","x":3.405,"y":0.052,"m":1},{"s":"w","x":3.44,"y":0.02,"m":1},{"s":"w","x":3.48,"y":0.005,"m":1},{"s":"w","x":3.51,"y":0,"m":1},{"s":"w","x":3.55,"y":0.03,"m":1},{"s":"w","x":3.59,"y":0.09,"m":1},{"s":"w","x":3.63,"y":0.19,"m":1},{"s":"w","x":3.665,"y":0.31,"m":1},{"s":"w","x":3.705,"y":0.51,"m":1},{"s":"w","x":3.745,"y":0.81,"m":1},{"s":"w","x":3.785,"y":1,"m":1},{"s":"w","x":3.825,"y":0.65,"m":1},{"s":"w","x":3.865,"y":0.29,"m":1},{"s":"w","x":3.91,"y":0.21,"m":1},{"s":"w","x":3.965,"y":0.12,"m":1},{"s":"w","x":4.01,"y":0.1,"m":1},{"s":"w","x":4.06,"y":0.06,"m":1},{"s":"w","x":4.12,"y":0.03,"m":1},{"s":"w","x":4.16,"y":0.01},
{"s":"c","x":2.65,"y":0,"m":1},{"s":"c","x":2.77,"y":0.005,"m":1},{"s":"c","x":2.866,"y":0.02,"m":1},{"s":"c","x":2.94,"y":0.012,"m":1},{"s":"c","x":3.01,"y":0.045,"m":1},{"s":"c","x":3.075,"y":0.13,"m":1},{"s":"c","x":3.13,"y":0.216,"m":1},{"s":"c","x":3.18,"y":0.46,"m":1},{"s":"c","x":3.23,"y":0.56,"m":1},{"s":"c","x":3.28,"y":0.45,"m":1},{"s":"c","x":3.32,"y":0.29,"m":1},{"s":"c","x":3.365,"y":0.148,"m":1},{"s":"c","x":3.405,"y":0.062,"m":1},{"s":"c","x":3.44,"y":0.015,"m":1},{"s":"c","x":3.48,"y":0.01,"m":1},{"s":"c","x":3.51,"y":0,"m":1},{"s":"c","x":3.55,"y":0.033,"m":1},{"s":"c","x":3.59,"y":0.1,"m":1},{"s":"c","x":3.63,"y":0.197,"m":1},{"s":"c","x":3.665,"y":0.32,"m":1},{"s":"c","x":3.705,"y":0.524,"m":1},{"s":"c","x":3.745,"y":0.8,"m":1},{"s":"c","x":3.785,"y":1,"m":1},{"s":"c","x":3.825,"y":0.83,"m":1},{"s":"c","x":3.865,"y":0.62,"m":1},{"s":"c","x":3.91,"y":0.476,"m":1},{"s":"c","x":3.965,"y":0.32,"m":1},{"s":"c","x":4.01,"y":0.197,"m":1},{"s":"c","x":4.06,"y":0.1,"m":1},{"s":"c","x":4.12,"y":0.043,"m":1},{"s":"c","x":4.16,"y":0.02},
{"s":"g","x":2.65,"y":0,"m":1},{"s":"g","x":2.77,"y":0.005,"m":1},{"s":"g","x":2.866,"y":0.02,"m":1},{"s":"g","x":2.94,"y":0.023,"m":1},{"s":"g","x":3.01,"y":0.037,"m":1},{"s":"g","x":3.075,"y":0.12,"m":1},{"s":"g","x":3.13,"y":0.2,"m":1},{"s":"g","x":3.18,"y":0.48,"m":1},{"s":"g","x":3.23,"y":0.64,"m":1},{"s":"g","x":3.28,"y":0.46,"m":1},{"s":"g","x":3.32,"y":0.29,"m":1},{"s":"g","x":3.365,"y":0.145,"m":1},{"s":"g","x":3.405,"y":0.06,"m":1},{"s":"g","x":3.44,"y":0.015,"m":1},{"s":"g","x":3.48,"y":0.006,"m":1},{"s":"g","x":3.51,"y":0.005,"m":1},{"s":"g","x":3.55,"y":0.035,"m":1},{"s":"g","x":3.59,"y":0.1,"m":1},{"s":"g","x":3.63,"y":0.2,"m":1},{"s":"g","x":3.665,"y":0.33,"m":1},{"s":"g","x":3.705,"y":0.53,"m":1},{"s":"g","x":3.745,"y":0.8,"m":1},{"s":"g","x":3.785,"y":0.99,"m":1},{"s":"g","x":3.825,"y":0.84,"m":1},{"s":"g","x":3.865,"y":0.63,"m":1},{"s":"g","x":3.91,"y":0.48,"m":1},{"s":"g","x":3.965,"y":0.32,"m":1},{"s":"g","x":4.01,"y":0.2,"m":1},{"s":"g","x":4.06,"y":0.1,"m":1},{"s":"g","x":4.12,"y":0.043,"m":1},{"s":"g","x":4.16,"y":0.02}
]
},
"columns":5,
"spacing":{"row":0,"column":0},
"bounds":"flush",
"align":"each",
"resolve":{"scale":{"fill":"shared","shape":"shared","stroke":"shared"}},
"concat":[
{"width":229,"height":190,
 "layer":[
  {"data":{"name":"ns"},
   "encoding":{
    "x":{"field":"n","type":"quantitative","scale":{"domain":[0.5,4.5],"nice":false,"zero":false},"axis":{"orient":"bottom","values":[1,2,3,4],"labels":false,"title":null,"offset":-10,"tickSize":10}},
    "y":{"field":"y","type":"quantitative","scale":{"type":"log","domain":[0.01,2],"nice":false},"axis":{"orient":"left","values":[0.01,0.1,1],"labelExpr":"format(datum.value,'~g')","labelPadding":16,"offset":-10,"tickSize":10,"title":"Normalized power spectrum","titleFontSize":26,"titleAngle":-90,"titleAlign":"center","titleBaseline":"middle","titleX":-90,"titleY":174}}},
   "layer":[
    {"data":{"name":"fits"},"transform":[{"filter":"datum.p=='T'"}],"mark":{"type":"line","color":"#9a9a9a","strokeWidth":3,"strokeDash":[10,6],"clip":true},"encoding":{"detail":{"field":"f","type":"nominal"}}},
    {"transform":[{"filter":"datum.p=='T'&&datum.s=='e'"}],"mark":{"type":"point","filled":true,"opacity":1,"size":110,"strokeWidth":1},
     "encoding":{"fill":{"field":"s","type":"nominal","scale":{"domain":["e","w","c","g"],"range":["#f2f2f2","#1f4fe0","#2ccdd3","#1b9a1b"]},"legend":{"title":null,"orient":"none","legendX":137,"legendY":-151,"labelExpr":"datum.label=='e'?'η-MHD':datum.label=='w'?'ω*':datum.label=='c'?'fbs=0':'fbs=1'"}},
                 "shape":{"field":"s","type":"nominal","scale":{"domain":["e","w","c","g"],"range":["circle","square","circle","diamond"]},"legend":{"title":null,"orient":"none","legendX":137,"legendY":-151,"labelExpr":"datum.label=='e'?'η-MHD':datum.label=='w'?'ω*':datum.label=='c'?'fbs=0':'fbs=1'"}},
                 "stroke":{"field":"s","type":"nominal","scale":{"domain":["e","w","c","g"],"range":["#111111","#1c44d0","#38d6e0","#1f9a25"]},"legend":{"title":null,"orient":"none","legendX":137,"legendY":-151,"labelExpr":"datum.label=='e'?'η-MHD':datum.label=='w'?'ω*':datum.label=='c'?'fbs=0':'fbs=1'"}}}},
    {"transform":[{"filter":"datum.p=='T'&&datum.s!='e'"}],"mark":{"type":"point","filled":true,"opacity":1,"size":110,"stroke":"#222","strokeWidth":0.8},
     "encoding":{"fill":{"field":"s","type":"nominal"},"shape":{"field":"s","type":"nominal"}}},
    {"data":{"name":"ann"},"transform":[{"filter":"datum.p=='T'"}],"mark":{"type":"text","align":"left","baseline":"alphabetic","fontSize":22,"fontStyle":"italic"},"encoding":{"text":{"field":"base","type":"nominal"}}},
    {"data":{"name":"ann"},"transform":[{"filter":"datum.p=='T'"}],"mark":{"type":"text","align":"left","baseline":"alphabetic","fontSize":15,"fontStyle":"italic","dx":33,"dy":-12},"encoding":{"text":{"field":"sup","type":"nominal"}}}
   ]},
  {"data":{"name":"box"},"transform":[{"filter":"datum.p=='LT'"}],
   "layer":[
    {"mark":{"type":"rect","fill":"white","stroke":"black","strokeWidth":2.5},"encoding":{"x":{"field":"x1","type":"quantitative","scale":{"domain":[0.5,4.5],"nice":false,"zero":false},"axis":{"orient":"top","values":[1,2,3,4],"labels":false,"title":null,"offset":-10,"tickSize":10}},"x2":{"field":"x2"},"y":{"field":"y1","type":"quantitative","scale":{"type":"log","domain":[0.01,2],"nice":false},"axis":{"orient":"right","values":[0.01,0.1,1],"labels":false,"title":null,"offset":-10,"tickSize":10}},"y2":{"field":"y2"}}},
    {"mark":{"type":"text","fontSize":22,"baseline":"middle"},"encoding":{"x":{"field":"tx","type":"quantitative","scale":{"domain":[0.5,4.5],"nice":false,"zero":false},"axis":{"orient":"top","values":[1,2,3,4],"labels":false,"title":null,"offset":-10,"tickSize":10}},"y":{"field":"ty","type":"quantitative","scale":{"type":"log","domain":[0.01,2],"nice":false},"axis":{"orient":"right","values":[0.01,0.1,1],"labels":false,"title":null,"offset":-10,"tickSize":10}},"text":{"field":"lab","type":"nominal"}}}
   ]}
 ],
 "resolve":{"axis":{"x":"independent","y":"independent"}}},
{"width":127,"height":190,"data":{"values":[]},"mark":"point","view":{"stroke":null}},
{"width":307,"height":190,
 "title":{"text":"n=1 power spectrum"},
 "layer":[
  {"data":{"name":"TL"},
   "encoding":{
    "x":{"field":"x","type":"quantitative","scale":{"domain":[2.645,4.155],"nice":false,"zero":false},"axis":{"orient":"bottom","values":[2.8,3,3.2,3.4,3.6,3.8,4],"labels":false,"title":null,"offset":-10,"tickSize":10}},
    "y":{"field":"y","type":"quantitative","scale":{"type":"log","domain":[0.00052,0.31],"nice":false},"axis":{"orient":"left","values":[0.001,0.01,0.1],"labelExpr":"format(datum.value,'~g')","labelPadding":21,"offset":-10,"tickSize":10,"title":null}}},
   "layer":[
    {"transform":[{"filter":"datum.s=='e'&&datum.m!=1"}],"mark":{"type":"line","color":"#b5b5b5","strokeWidth":3,"clip":true}},
    {"transform":[{"filter":"datum.s=='e'&&datum.m==1"}],"mark":{"type":"point","filled":true,"opacity":1,"size":70,"strokeWidth":1,"clip":true},"encoding":{"fill":{"field":"s","type":"nominal"},"shape":{"field":"s","type":"nominal"},"stroke":{"field":"s","type":"nominal"}}},
    {"transform":[{"filter":"datum.s!='e'"}],"mark":{"type":"line","strokeWidth":3.2,"clip":true},"encoding":{"stroke":{"field":"s","type":"nominal","scale":{"domain":["e","w","c","g"],"range":["#111111","#1c44d0","#38d6e0","#1f9a25"]},"legend":null}}},
    {"transform":[{"filter":"datum.s!='e'&&datum.m==1"}],"mark":{"type":"point","filled":true,"opacity":1,"size":65,"stroke":"#222","strokeWidth":0.8,"clip":true},"encoding":{"fill":{"field":"s","type":"nominal"},"shape":{"field":"s","type":"nominal"}}},
    {"data":{"values":[{}]},"mark":{"type":"rule","color":"#6e6e6e","strokeWidth":2.5,"strokeDash":[9,5,2,5]},"encoding":{"x":{"datum":3.51},"y":{"datum":0.31},"y2":{"datum":0.00052}}}
   ]},
  {"data":{"name":"box"},"transform":[{"filter":"datum.p=='TL'"}],
   "layer":[
    {"mark":{"type":"rect","fill":"white","stroke":"black","strokeWidth":2.5},"encoding":{"x":{"field":"x1","type":"quantitative","scale":{"domain":[2.645,4.155],"nice":false,"zero":false},"axis":{"orient":"top","values":[2.8,3,3.2,3.4,3.6,3.8,4],"labels":false,"title":null,"offset":-10,"tickSize":10}},"x2":{"field":"x2"},"y":{"field":"y1","type":"quantitative","scale":{"type":"log","domain":[0.00052,0.31],"nice":false},"axis":{"orient":"right","values":[0.001,0.01,0.1],"labels":false,"title":null,"offset":-10,"tickSize":10}},"y2":{"field":"y2"}}},
    {"mark":{"type":"text","fontSize":22,"baseline":"middle"},"encoding":{"x":{"field":"tx","type":"quantitative","scale":{"domain":[2.645,4.155],"nice":false,"zero":false},"axis":{"orient":"top","values":[2.8,3,3.2,3.4,3.6,3.8,4],"labels":false,"title":null,"offset":-10,"tickSize":10}},"y":{"field":"ty","type":"quantitative","scale":{"type":"log","domain":[0.00052,0.31],"nice":false},"axis":{"orient":"right","values":[0.001,0.01,0.1],"labels":false,"title":null,"offset":-10,"tickSize":10}},"text":{"field":"lab","type":"nominal"}}}
   ]}
 ],
 "resolve":{"axis":{"x":"independent","y":"independent"}}},
{"width":76,"height":190,"data":{"values":[]},"mark":"point","view":{"stroke":null}},
{"width":305,"height":190,
 "title":{"text":"n=1 normalized power spectrum"},
 "layer":[
  {"data":{"name":"TN"},
   "encoding":{
    "x":{"field":"x","type":"quantitative","scale":{"domain":[2.645,4.155],"nice":false,"zero":false},"axis":{"orient":"bottom","values":[2.8,3,3.2,3.4,3.6,3.8,4],"labels":false,"title":null,"offset":-10,"tickSize":10}},
    "y":{"field":"y","type":"quantitative","scale":{"domain":[0,1.11],"nice":false,"zero":false},"axis":{"orient":"left","values":[0,0.5,1],"labelExpr":"format(datum.value,'~g')","labelPadding":9,"offset":-10,"tickSize":10,"title":null}}},
   "layer":[
    {"transform":[{"filter":"datum.s=='e'&&datum.m!=1"}],"mark":{"type":"line","color":"#b5b5b5","strokeWidth":3,"clip":true}},
    {"transform":[{"filter":"datum.s=='e'&&datum.m==1"}],"mark":{"type":"point","filled":true,"opacity":1,"size":70,"strokeWidth":1,"clip":true},"encoding":{"fill":{"field":"s","type":"nominal"},"shape":{"field":"s","type":"nominal"},"stroke":{"field":"s","type":"nominal"}}},
    {"transform":[{"filter":"datum.s!='e'"}],"mark":{"type":"line","strokeWidth":3.2,"clip":true},"encoding":{"stroke":{"field":"s","type":"nominal","legend":null}}},
    {"transform":[{"filter":"datum.s!='e'&&datum.m==1"}],"mark":{"type":"point","filled":true,"opacity":1,"size":65,"stroke":"#222","strokeWidth":0.8,"clip":true},"encoding":{"fill":{"field":"s","type":"nominal"},"shape":{"field":"s","type":"nominal"}}},
    {"data":{"values":[{}]},"mark":{"type":"rule","color":"#6e6e6e","strokeWidth":2.5,"strokeDash":[9,5,2,5]},"encoding":{"x":{"datum":3.51},"y":{"datum":1.11},"y2":{"datum":0}}}
   ]},
  {"data":{"name":"box"},"transform":[{"filter":"datum.p=='TN'"}],
   "layer":[
    {"mark":{"type":"rect","fill":"white","stroke":"black","strokeWidth":2.5},"encoding":{"x":{"field":"x1","type":"quantitative","scale":{"domain":[2.645,4.155],"nice":false,"zero":false},"axis":{"orient":"top","values":[2.8,3,3.2,3.4,3.6,3.8,4],"labels":false,"title":null,"offset":-10,"tickSize":10}},"x2":{"field":"x2"},"y":{"field":"y1","type":"quantitative","scale":{"domain":[0,1.11],"nice":false,"zero":false},"axis":{"orient":"right","values":[0,0.5,1],"labels":false,"title":null,"offset":-10,"tickSize":10}},"y2":{"field":"y2"}}},
    {"mark":{"type":"text","fontSize":22,"baseline":"middle"},"encoding":{"x":{"field":"tx","type":"quantitative","scale":{"domain":[2.645,4.155],"nice":false,"zero":false},"axis":{"orient":"top","values":[2.8,3,3.2,3.4,3.6,3.8,4],"labels":false,"title":null,"offset":-10,"tickSize":10}},"y":{"field":"ty","type":"quantitative","scale":{"domain":[0,1.11],"nice":false,"zero":false},"axis":{"orient":"right","values":[0,0.5,1],"labels":false,"title":null,"offset":-10,"tickSize":10}},"text":{"field":"lab","type":"nominal"}}}
   ]}
 ],
 "resolve":{"axis":{"x":"independent","y":"independent"}}},
{"width":229,"height":192,
 "layer":[
  {"data":{"name":"ns"},
   "encoding":{
    "x":{"field":"n","type":"quantitative","scale":{"domain":[0.5,4.5],"nice":false,"zero":false},"axis":{"orient":"bottom","values":[1,2,3,4],"format":"d","title":"n","labelPadding":12,"titlePadding":10,"offset":-10,"tickSize":10}},
    "y":{"field":"y","type":"quantitative","scale":{"type":"log","domain":[0.01,2],"nice":false},"axis":{"orient":"left","values":[0.01,0.1,1],"labelExpr":"format(datum.value,'~g')","labelPadding":16,"offset":-10,"tickSize":10,"title":null}}},
   "layer":[
    {"data":{"name":"fits"},"transform":[{"filter":"datum.p=='N'"}],"mark":{"type":"line","color":"#9a9a9a","strokeWidth":3,"strokeDash":[10,6],"clip":true},"encoding":{"detail":{"field":"f","type":"nominal"}}},
    {"transform":[{"filter":"datum.p=='N'&&datum.s=='e'"}],"mark":{"type":"point","filled":true,"opacity":1,"size":110,"strokeWidth":1},"encoding":{"fill":{"field":"s","type":"nominal"},"shape":{"field":"s","type":"nominal"},"stroke":{"field":"s","type":"nominal"}}},
    {"transform":[{"filter":"datum.p=='N'&&datum.s!='e'"}],"mark":{"type":"point","filled":true,"opacity":1,"size":110,"stroke":"#222","strokeWidth":0.8},"encoding":{"fill":{"field":"s","type":"nominal"},"shape":{"field":"s","type":"nominal"}}},
    {"data":{"name":"ann"},"transform":[{"filter":"datum.p=='N'"}],"mark":{"type":"text","align":"left","baseline":"alphabetic","fontSize":22,"fontStyle":"italic"},"encoding":{"text":{"field":"base","type":"nominal"}}},
    {"data":{"name":"ann"},"transform":[{"filter":"datum.p=='N'"}],"mark":{"type":"text","align":"left","baseline":"alphabetic","fontSize":15,"fontStyle":"italic","dx":33,"dy":-12},"encoding":{"text":{"field":"sup","type":"nominal"}}}
   ]},
  {"data":{"name":"box"},"transform":[{"filter":"datum.p=='LB'"}],
   "layer":[
    {"mark":{"type":"rect","fill":"white","stroke":"black","strokeWidth":2.5},"encoding":{"x":{"field":"x1","type":"quantitative","scale":{"domain":[0.5,4.5],"nice":false,"zero":false},"axis":{"orient":"top","values":[1,2,3,4],"labels":false,"title":null,"offset":-10,"tickSize":10}},"x2":{"field":"x2"},"y":{"field":"y1","type":"quantitative","scale":{"type":"log","domain":[0.01,2],"nice":false},"axis":{"orient":"right","values":[0.01,0.1,1],"labels":false,"title":null,"offset":-10,"tickSize":10}},"y2":{"field":"y2"}}},
    {"mark":{"type":"text","fontSize":22,"baseline":"middle"},"encoding":{"x":{"field":"tx","type":"quantitative","scale":{"domain":[0.5,4.5],"nice":false,"zero":false},"axis":{"orient":"top","values":[1,2,3,4],"labels":false,"title":null,"offset":-10,"tickSize":10}},"y":{"field":"ty","type":"quantitative","scale":{"type":"log","domain":[0.01,2],"nice":false},"axis":{"orient":"right","values":[0.01,0.1,1],"labels":false,"title":null,"offset":-10,"tickSize":10}},"text":{"field":"lab","type":"nominal"}}}
   ]}
 ],
 "resolve":{"axis":{"x":"independent","y":"independent"}}},
{"width":127,"height":192,"data":{"values":[]},"mark":"point","view":{"stroke":null}},
{"width":307,"height":192,
 "layer":[
  {"data":{"name":"NL"},
   "encoding":{
    "x":{"field":"x","type":"quantitative","scale":{"domain":[2.645,4.155],"nice":false,"zero":false},"axis":{"orient":"bottom","values":[2.8,3,3.2,3.4,3.6,3.8,4],"labelExpr":"round(datum.value*10)%4==0?format(datum.value,'~g'):''","title":"R / a","labelPadding":12,"titlePadding":14,"offset":-10,"tickSize":10}},
    "y":{"field":"y","type":"quantitative","scale":{"type":"log","domain":[0.00002,0.065],"nice":false},"axis":{"orient":"left","values":[0.0001,0.001,0.01],"labelExpr":"datum.value<0.0005?'10⁻⁴':datum.value<0.005?'10⁻³':'10⁻²'","labelPadding":21,"offset":-10,"tickSize":10,"title":null}}},
   "layer":[
    {"transform":[{"filter":"datum.s=='e'&&datum.m!=1"}],"mark":{"type":"line","color":"#b5b5b5","strokeWidth":3,"clip":true}},
    {"transform":[{"filter":"datum.s=='e'&&datum.m==1"}],"mark":{"type":"point","filled":true,"opacity":1,"size":70,"strokeWidth":1,"clip":true},"encoding":{"fill":{"field":"s","type":"nominal"},"shape":{"field":"s","type":"nominal"},"stroke":{"field":"s","type":"nominal"}}},
    {"transform":[{"filter":"datum.s!='e'"}],"mark":{"type":"line","strokeWidth":3.2,"clip":true},"encoding":{"stroke":{"field":"s","type":"nominal","legend":null}}},
    {"transform":[{"filter":"datum.s!='e'&&datum.m==1"}],"mark":{"type":"point","filled":true,"opacity":1,"size":65,"stroke":"#222","strokeWidth":0.8,"clip":true},"encoding":{"fill":{"field":"s","type":"nominal"},"shape":{"field":"s","type":"nominal"}}},
    {"data":{"values":[{}]},"mark":{"type":"rule","color":"#6e6e6e","strokeWidth":2.5,"strokeDash":[9,5,2,5]},"encoding":{"x":{"datum":3.51},"y":{"datum":0.065},"y2":{"datum":0.00002}}}
   ]},
  {"data":{"name":"box"},"transform":[{"filter":"datum.p=='NL'"}],
   "layer":[
    {"mark":{"type":"rect","fill":"white","stroke":"black","strokeWidth":2.5},"encoding":{"x":{"field":"x1","type":"quantitative","scale":{"domain":[2.645,4.155],"nice":false,"zero":false},"axis":{"orient":"top","values":[2.8,3,3.2,3.4,3.6,3.8,4],"labels":false,"title":null,"offset":-10,"tickSize":10}},"x2":{"field":"x2"},"y":{"field":"y1","type":"quantitative","scale":{"type":"log","domain":[0.00002,0.065],"nice":false},"axis":{"orient":"right","values":[0.0001,0.001,0.01],"labels":false,"title":null,"offset":-10,"tickSize":10}},"y2":{"field":"y2"}}},
    {"mark":{"type":"text","fontSize":22,"baseline":"middle"},"encoding":{"x":{"field":"tx","type":"quantitative","scale":{"domain":[2.645,4.155],"nice":false,"zero":false},"axis":{"orient":"top","values":[2.8,3,3.2,3.4,3.6,3.8,4],"labels":false,"title":null,"offset":-10,"tickSize":10}},"y":{"field":"ty","type":"quantitative","scale":{"type":"log","domain":[0.00002,0.065],"nice":false},"axis":{"orient":"right","values":[0.0001,0.001,0.01],"labels":false,"title":null,"offset":-10,"tickSize":10}},"text":{"field":"lab","type":"nominal"}}}
   ]}
 ],
 "resolve":{"axis":{"x":"independent","y":"independent"}}},
{"width":76,"height":192,"data":{"values":[]},"mark":"point","view":{"stroke":null}},
{"width":305,"height":192,
 "layer":[
  {"data":{"name":"NN"},
   "encoding":{
    "x":{"field":"x","type":"quantitative","scale":{"domain":[2.645,4.155],"nice":false,"zero":false},"axis":{"orient":"bottom","values":[2.8,3,3.2,3.4,3.6,3.8,4],"labelExpr":"round(datum.value*10)%4==0?format(datum.value,'~g'):''","title":"R / a","labelPadding":12,"titlePadding":14,"offset":-10,"tickSize":10}},
    "y":{"field":"y","type":"quantitative","scale":{"domain":[0,1.11],"nice":false,"zero":false},"axis":{"orient":"left","values":[0,0.5,1],"labelExpr":"format(datum.value,'~g')","labelPadding":9,"offset":-10,"tickSize":10,"title":null}}},
   "layer":[
    {"transform":[{"filter":"datum.s=='e'&&datum.m!=1"}],"mark":{"type":"line","color":"#b5b5b5","strokeWidth":3,"clip":true}},
    {"transform":[{"filter":"datum.s=='e'&&datum.m==1"}],"mark":{"type":"point","filled":true,"opacity":1,"size":70,"strokeWidth":1,"clip":true},"encoding":{"fill":{"field":"s","type":"nominal"},"shape":{"field":"s","type":"nominal"},"stroke":{"field":"s","type":"nominal"}}},
    {"transform":[{"filter":"datum.s!='e'"}],"mark":{"type":"line","strokeWidth":3.2,"clip":true},"encoding":{"stroke":{"field":"s","type":"nominal","legend":null}}},
    {"transform":[{"filter":"datum.s!='e'&&datum.m==1"}],"mark":{"type":"point","filled":true,"opacity":1,"size":65,"stroke":"#222","strokeWidth":0.8,"clip":true},"encoding":{"fill":{"field":"s","type":"nominal"},"shape":{"field":"s","type":"nominal"}}},
    {"data":{"values":[{}]},"mark":{"type":"rule","color":"#6e6e6e","strokeWidth":2.5,"strokeDash":[9,5,2,5]},"encoding":{"x":{"datum":3.51},"y":{"datum":1.11},"y2":{"datum":0}}}
   ]},
  {"data":{"name":"box"},"transform":[{"filter":"datum.p=='NN'"}],
   "layer":[
    {"mark":{"type":"rect","fill":"white","stroke":"black","strokeWidth":2.5},"encoding":{"x":{"field":"x1","type":"quantitative","scale":{"domain":[2.645,4.155],"nice":false,"zero":false},"axis":{"orient":"top","values":[2.8,3,3.2,3.4,3.6,3.8,4],"labels":false,"title":null,"offset":-10,"tickSize":10}},"x2":{"field":"x2"},"y":{"field":"y1","type":"quantitative","scale":{"domain":[0,1.11],"nice":false,"zero":false},"axis":{"orient":"right","values":[0,0.5,1],"labels":false,"title":null,"offset":-10,"tickSize":10}},"y2":{"field":"y2"}}},
    {"mark":{"type":"text","fontSize":22,"baseline":"middle"},"encoding":{"x":{"field":"tx","type":"quantitative","scale":{"domain":[2.645,4.155],"nice":false,"zero":false},"axis":{"orient":"top","values":[2.8,3,3.2,3.4,3.6,3.8,4],"labels":false,"title":null,"offset":-10,"tickSize":10}},"y":{"field":"ty","type":"quantitative","scale":{"domain":[0,1.11],"nice":false,"zero":false},"axis":{"orient":"right","values":[0,0.5,1],"labels":false,"title":null,"offset":-10,"tickSize":10}},"text":{"field":"lab","type":"nominal"}}}
   ]}
 ],
 "resolve":{"axis":{"x":"independent","y":"independent"}}}
]
}
